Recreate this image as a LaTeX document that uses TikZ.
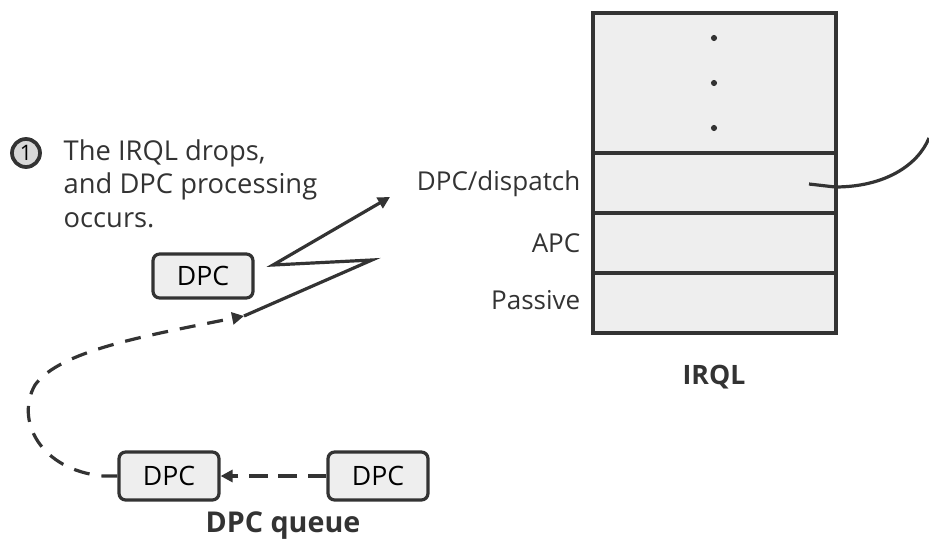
\documentclass[tikz,border=0pt]{standalone}
\usepackage{fontspec}
\setmainfont{Open Sans}
\usetikzlibrary{arrows.meta}
\definecolor{ink}{HTML}{333333}
\definecolor{boxfill}{HTML}{EEEEEE}
\tikzset{
  dpcbox/.style={draw=ink, fill=boxfill, line width=2.4pt, rounded corners=5pt, minimum width=75pt, minimum height=33pt, inner sep=0pt, font=\fontsize{20}{22}\selectfont},
  lvl/.style={draw=ink, fill=boxfill, line width=2.4pt},
  lbl/.style={font=\fontsize{19.5}{22}\selectfont, text=ink},
  conn/.style={draw=ink, line width=2.4pt},
  tip/.style={-{Triangle[length=9pt,width=9pt]}},
}
\begin{document}
\begin{tikzpicture}[x=0.75pt,y=-0.75pt]
\useasboundingbox (0,0) rectangle (929,542);
% IRQL stack
\draw[lvl] (593,13) rectangle (836,153);
\draw[lvl] (593,153) rectangle (836,213);
\draw[lvl] (593,213) rectangle (836,273);
\draw[lvl] (593,273) rectangle (836,333);
\coordinate (dispt) at (809,184);
\fill[ink] (714,38) circle (2.3pt) (714,83) circle (2.3pt) (714,128) circle (2.3pt);
\node[lbl, anchor=east] (ldisp) at (585,184) {DPC/dispatch};
\node[lbl, anchor=east] (lapc) at (585,243) {APC};
\node[lbl, anchor=east] (lpas) at (585,300) {Passive};
\node[lbl, font=\fontsize{20}{22}\selectfont\bfseries] (irql) at (714,377) {IRQL};
\coordinate (edge) at (929,138);
\draw[conn] (dispt) -- (835,187) .. controls (885,187) and (918,165) .. (edge);
% annotation
\node[circle, draw=ink, fill=boxfill!80!gray, line width=2.8pt, minimum size=21pt, inner sep=0pt, font=\fontsize{16}{16}\selectfont] (n1) at (26,153) {1};
\node[lbl, anchor=north west, align=left, font=\fontsize{20.5}{25}\selectfont] (note) at (59,135) {The IRQL drops,\\and DPC processing\\occurs.};
% DPC boxes
\node[dpcbox] (dpc) at (203,276) {DPC};
\node[dpcbox, minimum height=36pt] (q1) at (169,476) {DPC};
\node[dpcbox, minimum height=36pt] (q2) at (378,476) {DPC};
\node[font=\fontsize{21.5}{22}\selectfont\bfseries, text=ink] (qlab) at (283,526) {DPC queue};
% queue arrow
\draw[conn, dashed, dash pattern=on 14pt off 8pt, tip] (q2.west) -- (q1.east);
% dashed loop
\coordinate (lt) at (244,316);
\draw[conn, dash pattern=on 12pt off 9pt, tip] (q1.west) -- (103,476)
  .. controls (40,470) and (15,420) .. (35,385)
  .. controls (60,350) and (150,335) .. (lt);
% lightning
\coordinate (z1) at (372,260);
\coordinate (z2) at (273,265);
\coordinate (ztip) at (390,197);
\draw[conn, tip] (lt) -- (z1) -- (z2) -- (ztip);
\end{tikzpicture}
\end{document}
